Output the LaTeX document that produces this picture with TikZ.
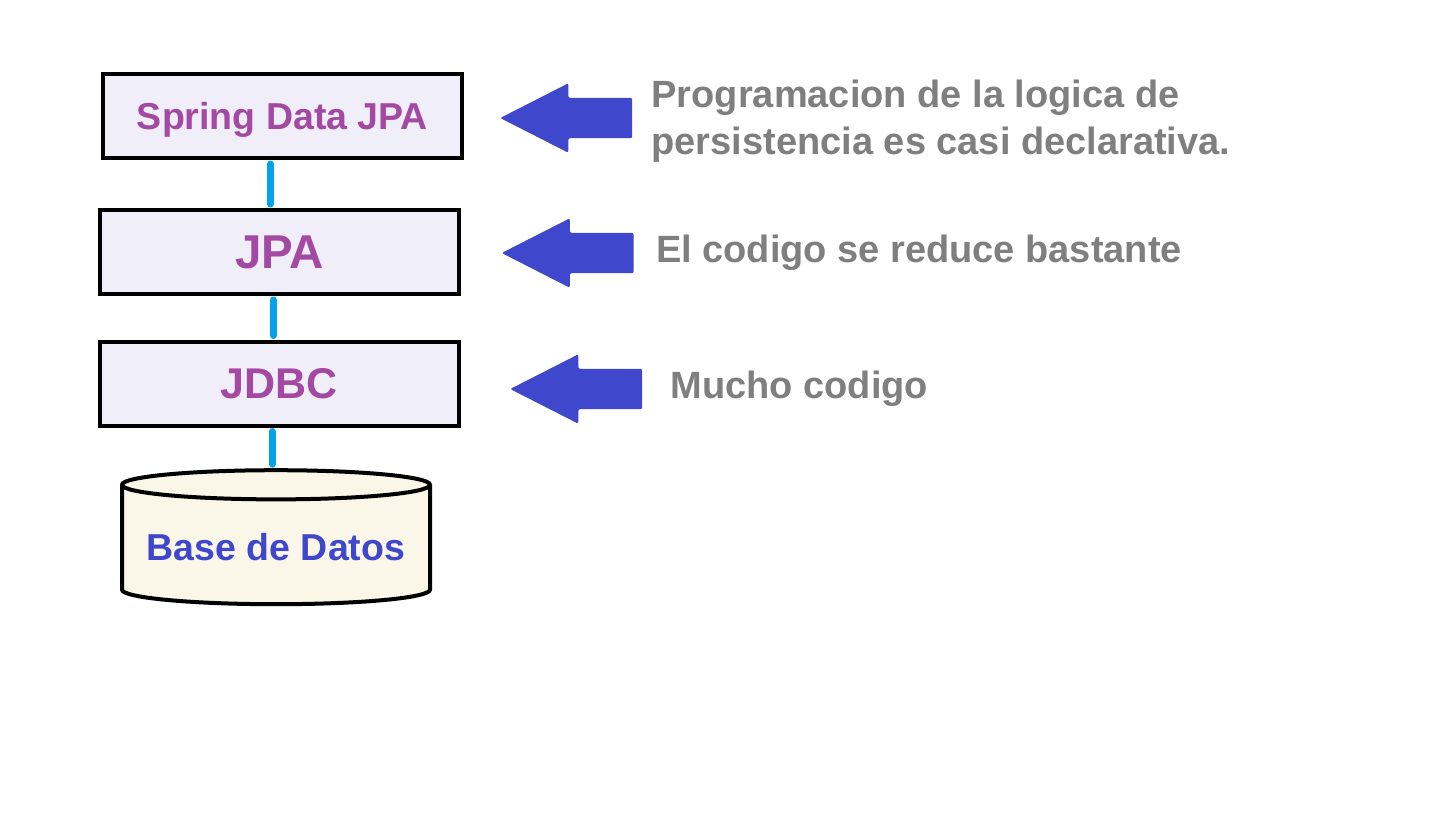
\documentclass[tikz,border=0pt]{standalone}
\usepackage{fontspec}
\setmainfont{Liberation Sans}
\usetikzlibrary{positioning,shapes.geometric,shapes.arrows}
\definecolor{layerfill}{HTML}{F0EEF8}
\definecolor{dbfill}{HTML}{FAF7E9}
\definecolor{layertext}{HTML}{A349A4}
\definecolor{pointblue}{HTML}{3F48CC}
\definecolor{notegray}{HTML}{7F7F7F}
\definecolor{linkcyan}{HTML}{00A2E8}
\tikzset{
  layer/.style={draw, line width=4pt, fill=layerfill, minimum width=359pt, minimum height=84pt, text=layertext, text depth=0pt},
  pointer/.style={single arrow, shape border rotate=180, fill=pointblue, minimum height=132pt, inner xsep=0pt, inner ysep=20pt, single arrow head extend=14.5pt, single arrow tip angle=54, rounded corners=2pt},
  note/.style={anchor=west, inner sep=0pt, text=notegray, font=\bfseries\fontsize{38}{47}\selectfont, align=left},
  link/.style={linkcyan, line width=7pt, line cap=round},
}
\begin{document}
\begin{tikzpicture}[x=1pt, y=-1pt, node distance=136pt]
    \useasboundingbox (0,0) rectangle (1451,825);
    \node (spring) [layer, font=\bfseries\fontsize{37.5}{40}\selectfont] at (282.5,116) {Spring Data JPA};
    \node (jpa) [layer, below of=spring, xshift=-3pt, font=\bfseries\fontsize{47.5}{50}\selectfont] {JPA};
    \node (jdbc) [layer, below of=jpa, yshift=4.5pt, font=\bfseries\fontsize{43}{48}\selectfont] {JDBC};
    \node (db) [cylinder, shape border rotate=90, aspect=0.11, draw, line width=4pt, fill=dbfill, minimum width=308pt, minimum height=134pt, text=pointblue, font=\bfseries\fontsize{37.5}{40}\selectfont, below of=jdbc, yshift=-27.5pt, xshift=-3.5pt] {Base de Datos};
    \node (ptrspring) [pointer, right of=spring, xshift=167.5pt, yshift=-2pt] {};
    \node (ptrjpa) [pointer, right of=jpa, xshift=172pt, yshift=-1pt] {};
    \node (ptrjdbc) [pointer, right of=jdbc, xshift=180.5pt, yshift=-5.5pt] {};
    \node (notespring) [note, right=19pt of ptrspring, yshift=-3pt] {Programacion de la logica de\\persistencia es casi declarativa.};
    \node (notejpa) [note, right=22pt of ptrjpa] {El codigo se reduce bastante};
    \node (notejdbc) [note, right=28pt of ptrjdbc] {Mucho codigo};
    \draw[link] ([xshift=-12pt, yshift=-4pt]spring.south) -- ([xshift=-9pt, yshift=4pt]jpa.north);
    \draw[link] ([xshift=-6.5pt, yshift=-4pt]jpa.south) -- ([xshift=-6.5pt, yshift=4pt]jdbc.north);
    \draw[link] ([xshift=-7.5pt, yshift=-4pt]jdbc.south) -- ([xshift=-4pt, yshift=4pt]db.north);
\end{tikzpicture}
\end{document}
